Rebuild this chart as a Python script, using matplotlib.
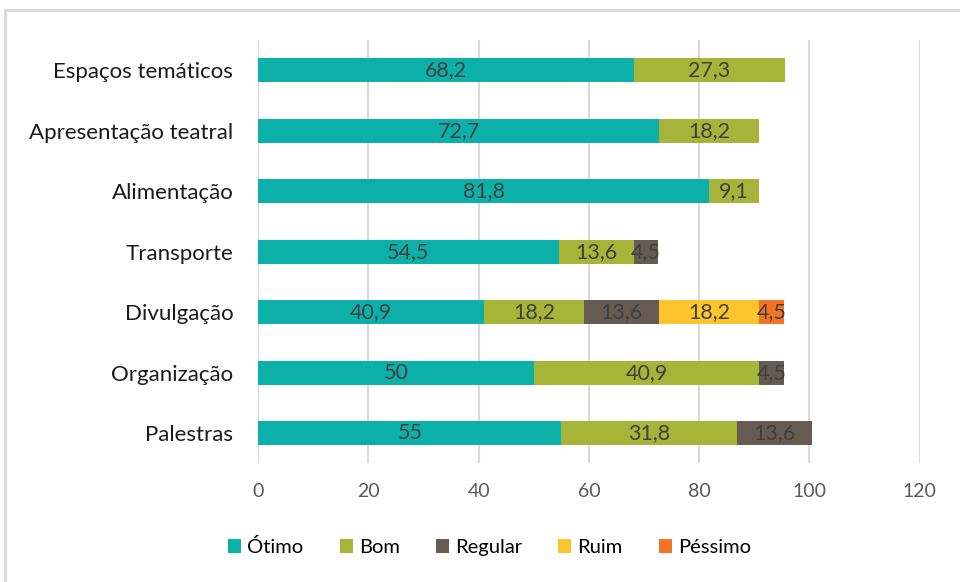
import numpy as np
import matplotlib
matplotlib.use("Agg")
import matplotlib.pyplot as plt
from matplotlib.patches import Rectangle

plt.rcParams['font.family'] = ['Lato', 'DejaVu Sans']

# categories from bottom to top
categorias = ['Palestras', 'Organização', 'Divulgação', 'Transporte',
              'Alimentação', 'Apresentação teatral', 'Espaços temáticos']
otimo = [55, 50, 40.9, 54.5, 81.8, 72.7, 68.2]
bom = [31.8, 40.9, 18.2, 13.6, 9.1, 18.2, 27.3]
regular = [13.6, 4.5, 13.6, 4.5, 0, 0, 0]
ruim = [0, 0, 18.2, 0, 0, 0, 0]
pessimo = [0, 0, 4.5, 0, 0, 0, 0]

series = [('Ótimo', otimo, '#0BB0A8'),
          ('Bom', bom, '#A6B537'),
          ('Regular', regular, '#655B52'),
          ('Ruim', ruim, '#FDC52B'),
          ('Péssimo', pessimo, '#F47423')]

fig = plt.figure(figsize=(9.6, 5.82), dpi=100)
ax = fig.add_axes([0.269, 0.204, 0.689, 0.727])

y = np.arange(len(categorias))
left = np.zeros(len(categorias))
for nome, vals, cor in series:
    vals = np.array(vals)
    bars = ax.barh(y, vals, left=left, height=0.4, color=cor, label=nome, zorder=3)
    for b, v in zip(bars, vals):
        if v > 0:
            ax.text(b.get_x() + b.get_width() / 2, b.get_y() + b.get_height() / 2,
                    ('%g' % v).replace('.', ','), ha='center', va='center',
                    fontsize=15.5, color='#404040', zorder=4)
    left += vals

ax.set_xlim(0, 120)
ax.set_ylim(-0.5, len(categorias) - 0.5)
ax.set_xticks(range(0, 121, 20))
ax.set_yticks(y)
ax.set_yticklabels(categorias, fontsize=16, color='#1a1a1a')
ax.tick_params(axis='x', labelsize=14, labelcolor='#595959', length=0, pad=14)
ax.tick_params(axis='y', length=0, pad=18)
ax.grid(axis='x', color='#D9D9D9', linewidth=1.5, zorder=0)
for s in ax.spines.values():
    s.set_visible(False)

ax.legend(loc='center', bbox_to_anchor=(0.51, 0.06), bbox_transform=fig.transFigure,
          ncol=5, frameon=False, fontsize=14.5, handlelength=0.65, handleheight=0.65,
          handletextpad=0.3, columnspacing=1.8)

# outer chart border (light gray)
fig.patches.append(Rectangle((5 / 960, -0.1), 1.2, (582 - 10) / 582 + 0.1,
                             transform=fig.transFigure, fill=False,
                             edgecolor='#D9D9D9', linewidth=2))

fig.savefig('out.png', dpi=100)
